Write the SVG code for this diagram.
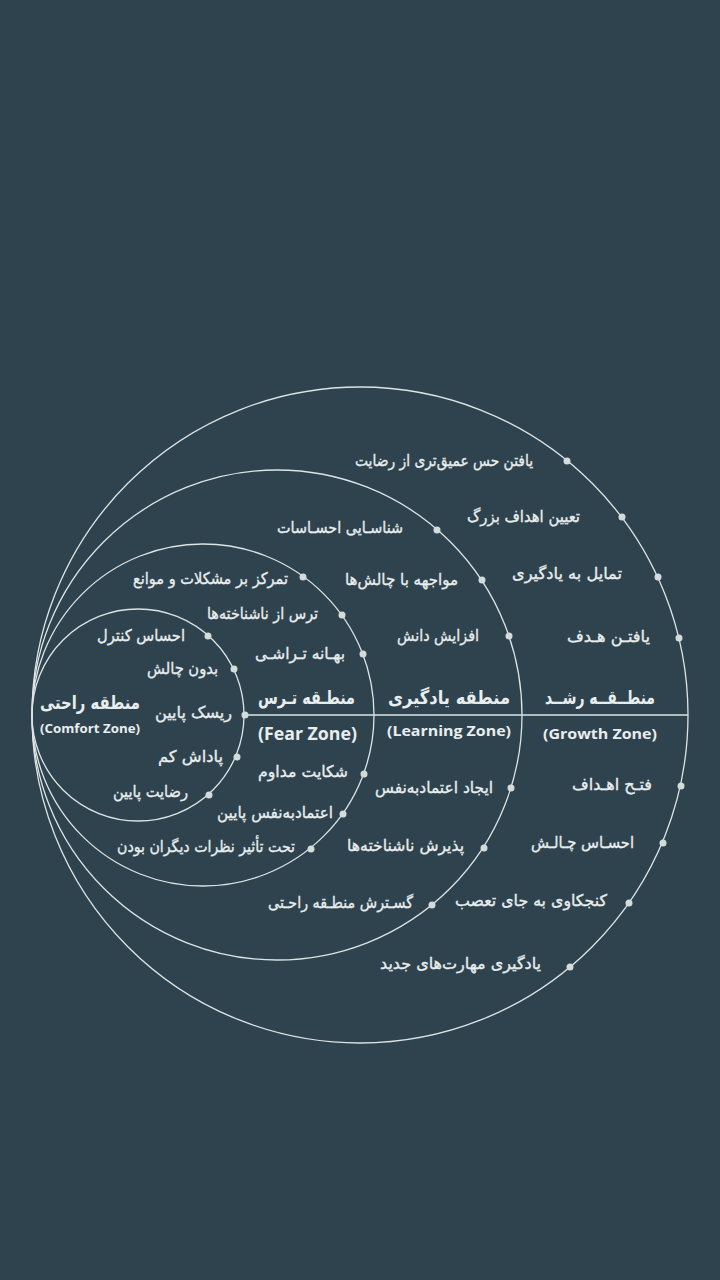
<svg xmlns="http://www.w3.org/2000/svg" width="720" height="1280" viewBox="0 0 720 1280">
<style>
.ring{fill:none;stroke:#dde4e4;stroke-width:1.3}
.axis{stroke:#dde4e4;stroke-width:1.3}
.dot{fill:#d3dbdb}
.t{font-family:"DejaVu Sans",sans-serif;font-size:16px;fill:#e8eeee;stroke:#e8eeee;stroke-width:0.35;text-anchor:middle}
.z{font-family:"DejaVu Sans",sans-serif;font-size:19px;font-weight:bold;fill:#e8eeee;text-anchor:middle}
.e{font-family:"Open Sans","Liberation Sans",sans-serif;font-weight:bold;fill:#e8eeee;text-anchor:middle}
</style>
<rect width="720" height="1280" fill="#2f434e"/>
<g id="connectors">
<line class="axis" x1="245" y1="715" x2="688" y2="715"/>
</g>
<g id="growth-zone">
<circle class="ring" cx="360" cy="715" r="328"/>
<text class="z" x="600" y="704" textLength="110" lengthAdjust="spacingAndGlyphs">منطــقــه رشــد</text>
<text class="e" x="600" y="739" font-size="15" textLength="114" lengthAdjust="spacingAndGlyphs">(Growth Zone)</text>
<circle class="dot" cx="567" cy="461" r="3.5"/>
<text class="t" x="444" y="466" textLength="178" lengthAdjust="spacingAndGlyphs">یافتن حس عمیق‌تری از رضایت</text>
<circle class="dot" cx="622" cy="517" r="3.5"/>
<text class="t" x="523.5" y="522" textLength="113" lengthAdjust="spacingAndGlyphs">تعیین اهداف بزرگ</text>
<circle class="dot" cx="658" cy="577" r="3.5"/>
<text class="t" x="567" y="579" textLength="110" lengthAdjust="spacingAndGlyphs">تمایل به یادگیری</text>
<circle class="dot" cx="679" cy="638" r="3.5"/>
<text class="t" x="608.5" y="642" textLength="83" lengthAdjust="spacingAndGlyphs">یافتـن هـدف</text>
<circle class="dot" cx="681" cy="786" r="3.5"/>
<text class="t" x="612" y="790" textLength="80" lengthAdjust="spacingAndGlyphs">فتـح اهـداف</text>
<circle class="dot" cx="663" cy="843" r="3.5"/>
<text class="t" x="582.5" y="848" textLength="103" lengthAdjust="spacingAndGlyphs">احسـاس چـالـش</text>
<circle class="dot" cx="629" cy="903" r="3.5"/>
<text class="t" x="531" y="906" textLength="152" lengthAdjust="spacingAndGlyphs">کنجکاوی به جای تعصب</text>
<circle class="dot" cx="570" cy="967" r="3.5"/>
<text class="t" x="460.5" y="969" textLength="161" lengthAdjust="spacingAndGlyphs">یادگیری مهارت‌های جدید</text>
</g>
<g id="learning-zone">
<circle class="ring" cx="277" cy="715" r="245"/>
<text class="z" x="449" y="704" textLength="122" lengthAdjust="spacingAndGlyphs">منطقه یادگیری</text>
<text class="e" x="449" y="736" font-size="15" textLength="124" lengthAdjust="spacingAndGlyphs">(Learning Zone)</text>
<circle class="dot" cx="437" cy="530" r="3.5"/>
<text class="t" x="340" y="533" textLength="126" lengthAdjust="spacingAndGlyphs">شناسـایی احسـاسات</text>
<circle class="dot" cx="482" cy="580" r="3.5"/>
<text class="t" x="401.5" y="585" textLength="113" lengthAdjust="spacingAndGlyphs">مواجهه با چالش‌ها</text>
<circle class="dot" cx="509" cy="636" r="3.5"/>
<text class="t" x="438" y="641" textLength="82" lengthAdjust="spacingAndGlyphs">افزایش دانش</text>
<circle class="dot" cx="511" cy="788" r="3.5"/>
<text class="t" x="434" y="793" textLength="118" lengthAdjust="spacingAndGlyphs">ایجاد اعتماد‌به‌نفس</text>
<circle class="dot" cx="484" cy="848" r="3.5"/>
<text class="t" x="405.5" y="851" textLength="117" lengthAdjust="spacingAndGlyphs">پذیرش ناشناخته‌ها</text>
<circle class="dot" cx="432" cy="905" r="3.5"/>
<text class="t" x="340.5" y="908" textLength="145" lengthAdjust="spacingAndGlyphs">گسـترش منطـقه راحـتی</text>
</g>
<g id="fear-zone">
<circle class="ring" cx="203" cy="715" r="171"/>
<text class="z" x="306.5" y="704" textLength="97" lengthAdjust="spacingAndGlyphs">منطـقه تـرس</text>
<text class="e" x="307.5" y="740" font-size="17" textLength="99" lengthAdjust="spacingAndGlyphs">(Fear Zone)</text>
<circle class="dot" cx="303" cy="577" r="3.5"/>
<text class="t" x="210.5" y="584" textLength="155" lengthAdjust="spacingAndGlyphs">تمرکز بر مشکلات و موانع</text>
<circle class="dot" cx="342" cy="615" r="3.5"/>
<text class="t" x="262.5" y="619" textLength="111" lengthAdjust="spacingAndGlyphs">ترس از ناشناخته‌ها</text>
<circle class="dot" cx="363" cy="654" r="3.5"/>
<text class="t" x="300" y="659" textLength="90" lengthAdjust="spacingAndGlyphs">بهـانه تـراشـی</text>
<circle class="dot" cx="364" cy="774" r="3.5"/>
<text class="t" x="303" y="777" textLength="90" lengthAdjust="spacingAndGlyphs">شکایت مداوم</text>
<circle class="dot" cx="343" cy="814" r="3.5"/>
<text class="t" x="275" y="818" textLength="116" lengthAdjust="spacingAndGlyphs">اعتماد‌به‌نفس پایین</text>
<circle class="dot" cx="311" cy="849" r="3.5"/>
<text class="t" x="206" y="852" textLength="178" lengthAdjust="spacingAndGlyphs">تحت تأثیر نظرات دیگران بودن</text>
</g>
<g id="comfort-zone">
<circle class="ring" cx="138" cy="715" r="106"/>
<text class="z" x="90" y="709" textLength="100" lengthAdjust="spacingAndGlyphs">منطقه راحتی</text>
<text class="e" x="90" y="733" font-size="13" textLength="100" lengthAdjust="spacingAndGlyphs">(Comfort Zone)</text>
<circle class="dot" cx="208" cy="636" r="3.5"/>
<text class="t" x="141" y="641" textLength="88" lengthAdjust="spacingAndGlyphs">احساس کنترل</text>
<circle class="dot" cx="234" cy="669" r="3.5"/>
<text class="t" x="182.5" y="674" textLength="71" lengthAdjust="spacingAndGlyphs">بدون چالش</text>
<circle class="dot" cx="245" cy="715" r="3.5"/>
<text class="t" x="193.5" y="718" textLength="77" lengthAdjust="spacingAndGlyphs">ریسک پایین</text>
<circle class="dot" cx="237" cy="757" r="3.5"/>
<text class="t" x="190.5" y="762" textLength="65" lengthAdjust="spacingAndGlyphs">پاداش کم</text>
<circle class="dot" cx="209" cy="795" r="3.5"/>
<text class="t" x="150.5" y="797" textLength="75" lengthAdjust="spacingAndGlyphs">رضایت پایین</text>
</g>
</svg>
